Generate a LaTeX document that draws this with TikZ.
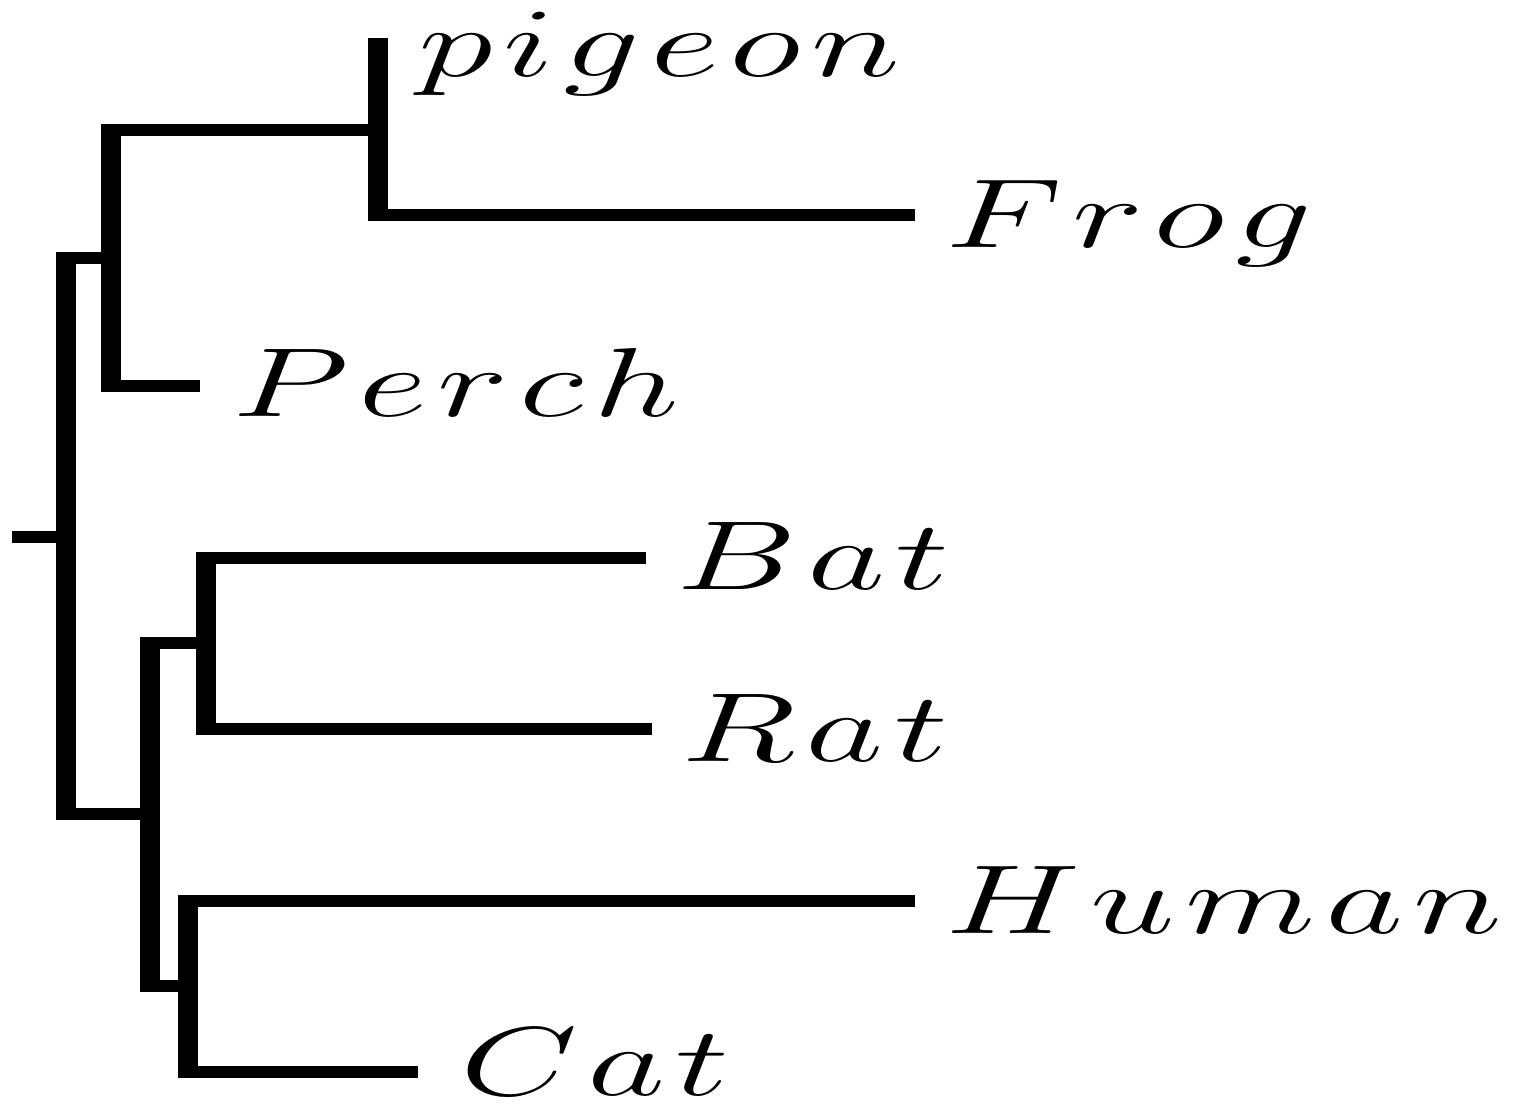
\documentclass[tikz,border=0pt]{standalone}
\usepackage{graphicx}
\usetikzlibrary{calc}
% spacing between the letters of a taxon name
\newcommand\lsp{\mkern1.2mu}
\newcommand\taxname[1]{\scalebox{6.33}[4.083]{$#1$}}
\begin{document}
\begin{tikzpicture}[x=0.5pt,y=-0.5pt,
  hbranch/.style={line width=6pt},
  vbranch/.style={line width=10pt},
  taxon/.style={anchor=base west, inner sep=0pt, font=\fontsize{12}{12}\selectfont}]
\useasboundingbox (0,0) rectangle (1532,1108);

% internal nodes
\coordinate (root) at (12,537);
\coordinate (n0) at (66,537);
\coordinate (n1) at (111,258);
\coordinate (n2) at (378,130);
\coordinate (n3) at (150,814);
\coordinate (n4) at (206,643);
\coordinate (n5) at (188,986);

% branch tips
\coordinate (tpigeon) at (378,44);
\coordinate (tfrog) at (915,215);
\coordinate (tperch) at (200,386);
\coordinate (tbat) at (646,558);
\coordinate (trat) at (652,729);
\coordinate (thuman) at (915,901);
\coordinate (tcat) at (418,1072);

% taxon labels
\node[taxon] (pigeon) at (418,76)  {\taxname{p\lsp i\lsp g\lsp e\lsp o\lsp n}};
\node[taxon] (frog)   at (945,247) {\taxname{F\lsp r\lsp o\lsp g}};
\node[taxon] (perch)  at (232,416) {\taxname{P\lsp e\lsp r\lsp c\lsp h}};
\node[taxon] (bat)    at (676,589) {\taxname{B\lsp a\lsp t}};
\node[taxon] (rat)    at (681,761) {\taxname{R\lsp a\lsp t}};
\node[taxon] (human)  at (945,933) {\taxname{H\lsp u\lsp m\lsp a\lsp n}};
\node[taxon] (cat)    at (460,1095) {\taxname{C\lsp a\lsp t}};

% root stub and spine
\draw[hbranch] (root) -- (n0);
\draw[vbranch] ($(n0|-n1)+(0,-6)$) -- ($(n0|-n3)+(0,6)$);

% upper clade
\draw[hbranch] (n0|-n1) -- (n1);
\draw[vbranch] ($(n1|-n2)+(0,-6)$) -- ($(n1|-tperch)+(0,6)$);
\draw[hbranch] (n1|-n2) -- (n2);
\draw[hbranch] (n1|-tperch) -- (tperch);
\draw[vbranch] ($(tpigeon)+(0,-6)$) -- ($(n2|-tfrog)+(0,6)$);
\draw[hbranch] (n2|-tfrog) -- (tfrog);

% lower clade
\draw[hbranch] (n0|-n3) -- (n3);
\draw[vbranch] ($(n3|-n4)+(0,-6)$) -- ($(n3|-n5)+(0,6)$);
\draw[hbranch] (n3|-n4) -- (n4);
\draw[vbranch] ($(n4|-tbat)+(0,-6)$) -- ($(n4|-trat)+(0,6)$);
\draw[hbranch] (n4|-tbat) -- (tbat);
\draw[hbranch] (n4|-trat) -- (trat);
\draw[hbranch] (n3|-n5) -- (n5);
\draw[vbranch] ($(n5|-thuman)+(0,-6)$) -- ($(n5|-tcat)+(0,6)$);
\draw[hbranch] (n5|-thuman) -- (thuman);
\draw[hbranch] (n5|-tcat) -- (tcat);
\end{tikzpicture}
\end{document}
